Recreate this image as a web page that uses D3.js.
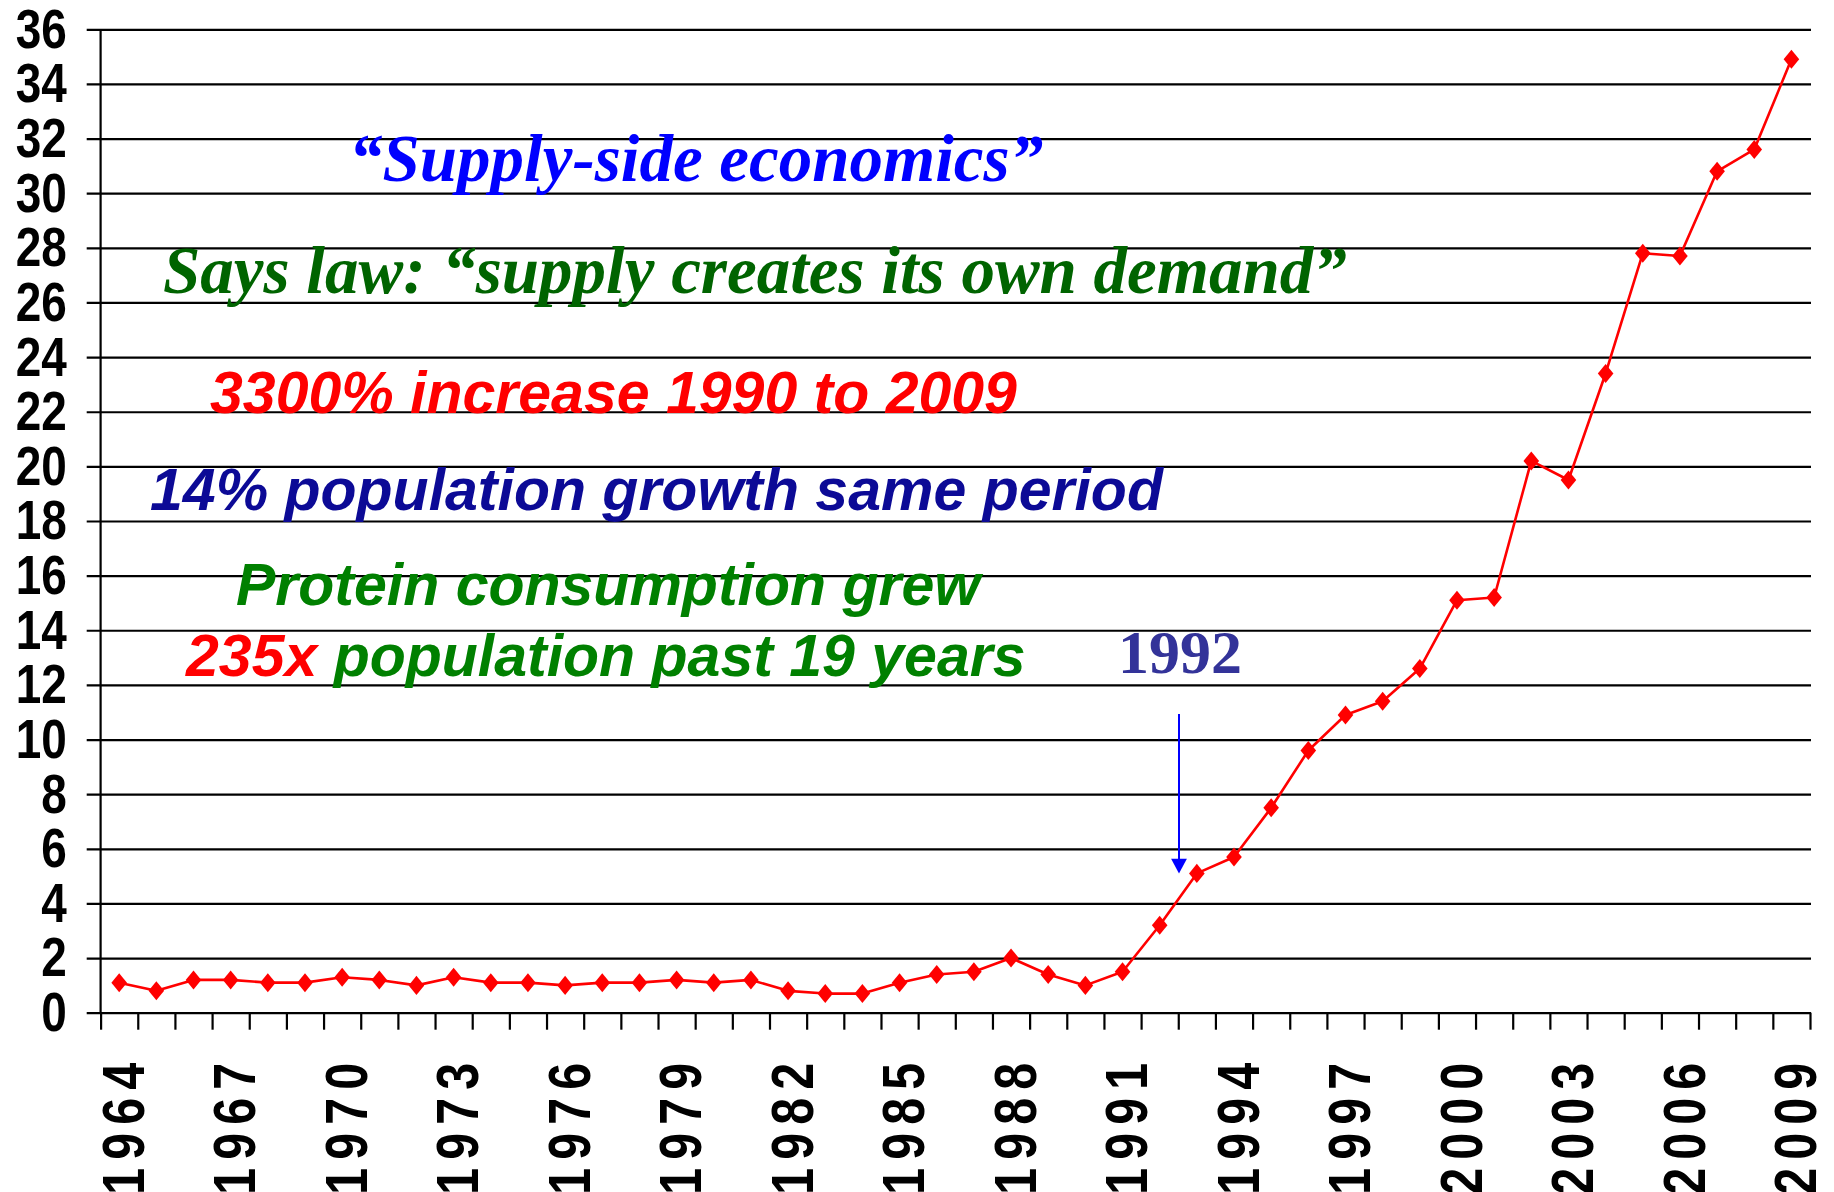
<!DOCTYPE html>
<html>
<head>
<meta charset="utf-8">
<script src="https://cdn.jsdelivr.net/npm/d3@7"></script>
<style>
  html, body { margin: 0; padding: 0; background: #fff; }
  svg { display: block; }
</style>
</head>
<body>
<svg id="chart" width="1834" height="1192"></svg>
<script>
// ---------- data ----------
const years = [1964,1965,1966,1967,1968,1969,1970,1971,1972,1973,
               1974,1975,1976,1977,1978,1979,1980,1981,1982,1983,
               1984,1985,1986,1987,1988,1989,1990,1991,1992,1993,
               1994,1995,1996,1997,1998,1999,2000,2001,2002,2003,
               2004,2005,2006,2007,2008,2009];
const values = [1.1,0.8,1.2,1.2,1.1,1.1,1.3,1.2,1.0,1.3,
                1.1,1.1,1.0,1.1,1.1,1.2,1.1,1.2,0.8,0.7,
                0.7,1.1,1.4,1.5,2.0,1.4,1.0,1.5,3.2,5.1,
                5.7,7.5,9.6,10.9,11.4,12.6,15.1,15.2,20.2,19.5,
                23.4,27.8,27.7,30.8,31.6,34.9];
const yTicks = [0,2,4,6,8,10,12,14,16,18,20,22,24,26,28,30,32,34,36];
const xLabelYears = [1964,1967,1970,1973,1976,1979,1982,1985,1988,1991,1994,1997,2000,2003,2006,2009];

// ---------- layout ----------
const svg = d3.select("#chart");
const L = 100.6, R = 1810, T = 29.3, B = 1012.7;
const SANS = "'Liberation Sans', Arial, sans-serif";
const SERIF = "'Liberation Serif', 'Times New Roman', serif";

const x = d3.scaleLinear().domain([years[0] - 0.5, years[years.length - 1] + 0.5]).range([L, R]);
const y = d3.scaleLinear().domain([0, 36]).range([B, T]);

// gridlines + y labels (axis placed at right end, ticks reaching left past the y axis)
const gridLeft = 86.7;
const gy = svg.append("g")
  .attr("transform", `translate(${R + 1},0)`)
  .call(d3.axisLeft(y).tickValues(yTicks).tickSize(R + 1 - gridLeft).tickPadding(20).tickFormat(d3.format("d")));
gy.select(".domain").remove();
gy.selectAll(".tick line").attr("stroke", "#000").attr("stroke-width", 2.2);
gy.selectAll(".tick text").each(function () {
  const t = d3.select(this);
  const tx = +t.attr("x");
  t.attr("x", 0).attr("transform", `translate(${tx},0) scale(0.82,1)`);
})
  .attr("fill", "#000")
  .style("font-family", SANS).style("font-weight", "bold").style("font-size", "56px");

// y axis line
svg.append("line").attr("x1", L).attr("x2", L).attr("y1", T).attr("y2", B)
  .attr("stroke", "#000").attr("stroke-width", 2.2);

// x axis: ticks at category boundaries
const boundaries = years.map(d => d - 0.5).concat([years[years.length - 1] + 0.5]);
const gx = svg.append("g").attr("transform", `translate(0,${B})`)
  .call(d3.axisBottom(x).tickValues(boundaries).tickSize(17).tickFormat(""));
gx.select(".domain").remove();
gx.selectAll(".tick line").attr("stroke", "#000").attr("stroke-width", 2.2);

// x labels
const gxl = svg.append("g").attr("transform", `translate(0,${B})`)
  .call(d3.axisBottom(x).tickValues(xLabelYears).tickSize(0).tickFormat(d3.format("d")));
gxl.select(".domain").remove();
gxl.selectAll(".tick text")
  .attr("y", 0)
  .attr("x", -42 / 0.82)
  .attr("dy", "0.41em")
  .attr("transform", "rotate(-90) scale(0.82,1)")
  .style("text-anchor", "end")
  .style("letter-spacing", "9.9px")
  .attr("fill", "#000")
  .style("font-family", SANS).style("font-weight", "bold").style("font-size", "59px");

// ---------- series ----------
const data = years.map((yr, i) => ({ year: yr, value: values[i] }));
svg.append("path")
  .datum(data)
  .attr("fill", "none")
  .attr("stroke", "#ff0000")
  .attr("stroke-width", 2.6)
  .attr("stroke-linejoin", "round")
  .attr("d", d3.line().x(d => x(d.year)).y(d => y(d.value)));

const diamond = {
  draw(ctx, size) {
    const h = Math.sqrt(size) * 0.59, w = h * 0.82;
    ctx.moveTo(0, -h); ctx.lineTo(w, 0); ctx.lineTo(0, h); ctx.lineTo(-w, 0); ctx.closePath();
  }
};
svg.append("g").selectAll("path")
  .data(data)
  .join("path")
  .attr("transform", d => `translate(${x(d.year)},${y(d.value)})`)
  .attr("d", d3.symbol().type(diamond).size(260))
  .attr("fill", "#ff0000");

// ---------- annotations ----------
function note(tx, ty, family, size, parts) {
  const t = svg.append("text").attr("x", tx).attr("y", ty)
    .style("font-family", family).style("font-size", size + "px")
    .style("font-weight", "bold").style("font-style", "italic");
  parts.forEach(p => t.append("tspan").attr("fill", p[1]).text(p[0]));
  return t;
}
note(349, 181, SERIF, 67, [["\u201CSupply-side economics\u201D", "#0000ff"]]);
note(163, 293, SERIF, 67, [["Says law: \u201Csupply creates its own demand\u201D", "#006400"]]);
note(210, 413, SANS, 59, [["3300% increase 1990 to 2009", "#ff0000"]]);
note(150, 510, SANS, 59, [["14% population growth same period", "#0c0a96"]]);
note(236, 605, SANS, 59, [["Protein consumption grew", "#008000"]]);
note(186, 676, SANS, 59, [["235x", "#ff0000"], [" population past 19 years", "#008000"]]);

svg.append("text").attr("x", 1118).attr("y", 673)
  .style("font-family", SERIF).style("font-size", "62px").style("font-weight", "bold")
  .attr("fill", "#333399").text("1992");

// arrow
const ax = 1179;
svg.append("line").attr("x1", ax).attr("x2", ax).attr("y1", 714).attr("y2", 860)
  .attr("stroke", "#0000ff").attr("stroke-width", 2);
svg.append("path")
  .attr("d", d3.line()([[ax - 7.9, 858.8], [ax + 7.9, 858.8], [ax, 873.6]]) + "Z")
  .attr("fill", "#0000ff");
</script>
</body>
</html>
